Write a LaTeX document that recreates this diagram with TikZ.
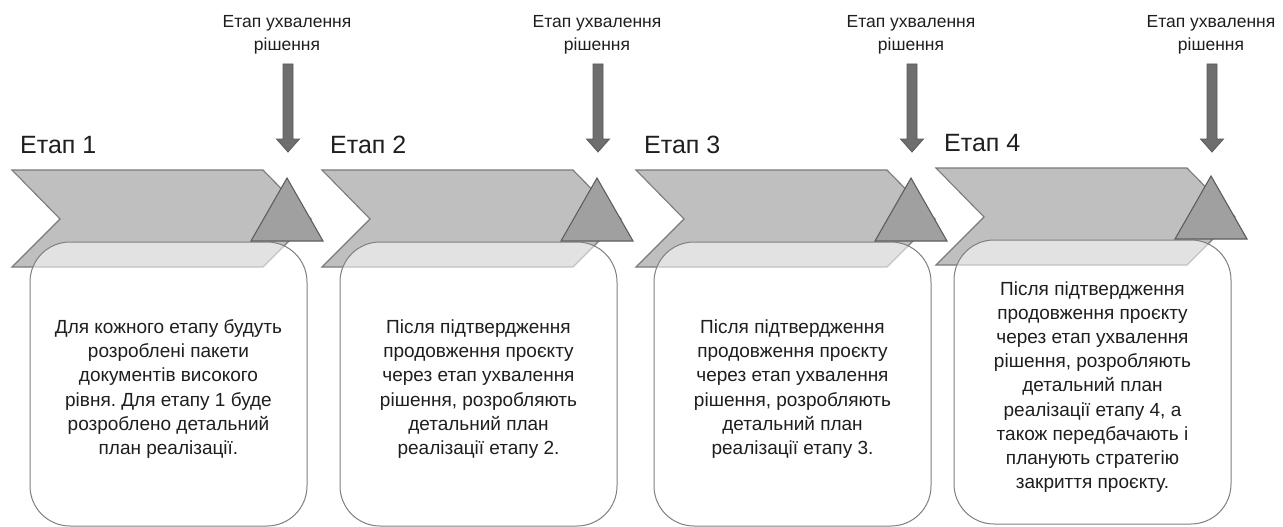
\documentclass[tikz,border=0pt]{standalone}
\usepackage{fontspec}
\setmainfont{Liberation Sans}
\frenchspacing
\definecolor{chevfill}{HTML}{BFBFBF}
\definecolor{chevline}{HTML}{7A7A7A}
\definecolor{trifill}{HTML}{A0A0A0}
\definecolor{triline}{HTML}{5E5E5E}
\definecolor{arrfill}{HTML}{6E6E6E}
\definecolor{arrline}{HTML}{5A5A5A}
\definecolor{cardline}{HTML}{808080}
\definecolor{txt}{HTML}{1E1E1E}
\newcommand{\stagegroup}[4]{%
  \begin{scope}[shift={(#1,0)}]
    \draw[arr] (283,64) -- (293,64) -- (293,139) -- (299.5,139) -- (288,152) -- (276.5,139) -- (283,139) -- cycle;
    \node[lbl] (l#3) at (287,35) {Етап ухвалення\\рішення};
    \begin{scope}[shift={(0,#2)}]
      \draw[chev] (12,170) -- (263,170) -- (311,219) -- (263,267) -- (12,267) -- (60,219) -- cycle;
      \draw[card] (30,242) rectangle (307,526);
      \draw[tri] (287,178) -- (323,241) -- (251,241) -- cycle;
      \node[head] (h#3) at (20,153) {Етап #3};
      \node[body] (b#3) at (168.5,389) {#4};
    \end{scope}
  \end{scope}}
\begin{document}
\begin{tikzpicture}[x=1pt,y=-1pt,
  chev/.style={fill=chevfill, draw=chevline, line width=1.1pt, line join=miter},
  tri/.style={fill=trifill, draw=triline, line width=1.1pt},
  card/.style={fill=white, fill opacity=0.55, draw=cardline, draw opacity=1, line width=1pt, rounded corners=40pt},
  arr/.style={fill=arrfill, draw=arrline, line width=0.8pt},
  head/.style={anchor=base west, inner sep=0pt, text=txt, font=\fontsize{25}{28}\selectfont},
  lbl/.style={align=center, text=txt, font=\fontsize{17.5}{22.5}\selectfont},
  body/.style={align=center, text=txt, font=\fontsize{19}{24.2}\selectfont}
]
\useasboundingbox (0,0) rectangle (1283,527);
\stagegroup{0}{0}{1}{Для кожного етапу будуть\\розроблені пакети\\документів високого\\рівня. Для етапу 1 буде\\розроблено детальний\\план реалізації.}
\stagegroup{310}{0}{2}{Після підтвердження\\продовження проєкту\\через етап ухвалення\\рішення, розробляють\\детальний план\\реалізації етапу 2.}
\stagegroup{624}{0}{3}{Після підтвердження\\продовження проєкту\\через етап ухвалення\\рішення, розробляють\\детальний план\\реалізації етапу 3.}
\stagegroup{924}{-2}{4}{Після підтвердження\\продовження проєкту\\через етап ухвалення\\рішення, розробляють\\детальний план\\реалізації етапу 4, а\\також передбачають і\\планують стратегію\\закриття проєкту.}
\end{tikzpicture}
\end{document}
